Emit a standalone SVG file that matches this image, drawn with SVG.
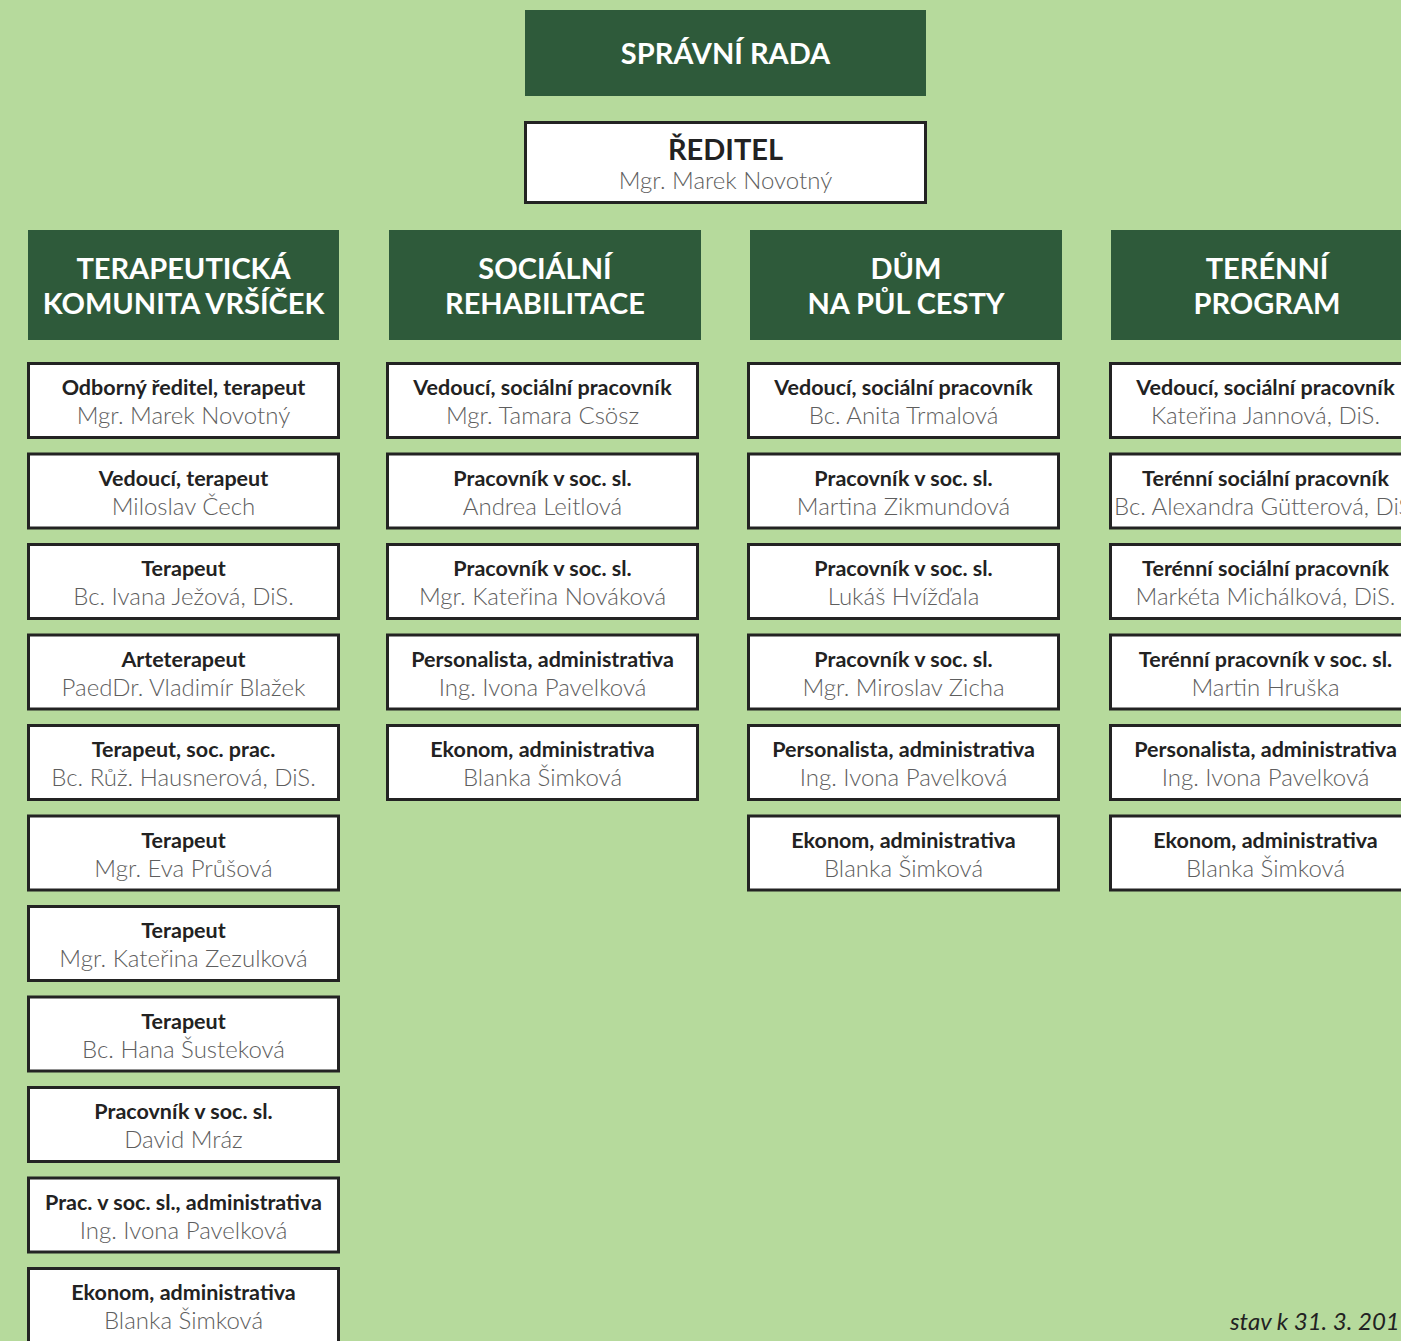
<svg xmlns="http://www.w3.org/2000/svg" width="1401" height="1341" viewBox="0 0 1401 1341">
<style>
.hd{fill:#2e5a3a}
.bx{fill:#ffffff;stroke:#232323;stroke-width:3}
.ht{font-family:Lato,"Liberation Sans",sans-serif;font-weight:700;font-size:29px;fill:#ffffff;text-anchor:middle}
.r{font-family:Lato,"Liberation Sans",sans-serif;font-weight:700;font-size:21.5px;fill:#222222;text-anchor:middle}
.n{font-family:Lato,"Liberation Sans",sans-serif;font-weight:300;font-size:24px;fill:#5e5e5e;text-anchor:middle}
.ft{font-family:Lato,"Liberation Sans",sans-serif;font-style:italic;font-size:24px;fill:#222222}
</style>
<rect width="1401" height="1341" fill="#b6da9c"/>
<g id="connectors"/>
<g id="spravni-rada">
<rect class="hd" x="525" y="10" width="401" height="86"/>
<text class="ht" x="725.5" y="64">SPRÁVNÍ RADA</text>
</g>
<g id="reditel">
<rect class="bx" x="525.5" y="122.5" width="400" height="80"/>
<text class="r" x="725.5" y="160" style="font-size:29px">ŘEDITEL</text>
<text class="n" x="725.5" y="189">Mgr. Marek Novotný</text>
</g>
<g id="h1"><rect class="hd" x="28" y="230" width="311" height="110"/>
<text class="ht" x="183.5" y="279">TERAPEUTICKÁ</text><text class="ht" x="183.5" y="314">KOMUNITA VRŠÍČEK</text></g>
<g id="h2"><rect class="hd" x="389" y="230" width="312" height="110"/>
<text class="ht" x="545" y="279">SOCIÁLNÍ</text><text class="ht" x="545" y="314">REHABILITACE</text></g>
<g id="h3"><rect class="hd" x="750" y="230" width="312" height="110"/>
<text class="ht" x="906" y="279">DŮM</text><text class="ht" x="906" y="314">NA PŮL CESTY</text></g>
<g id="h4"><rect class="hd" x="1111" y="230" width="312" height="110"/>
<text class="ht" x="1267" y="279">TERÉNNÍ</text><text class="ht" x="1267" y="314">PROGRAM</text></g>

<g id="c1r1"><rect class="bx" x="28.5" y="363.5" width="310" height="74"/><text class="r" x="183.5" y="395">Odborný ředitel, terapeut</text><text class="n" x="183.5" y="424">Mgr. Marek Novotný</text></g>
<g id="c1r2"><rect class="bx" x="28.5" y="454" width="310" height="74"/><text class="r" x="183.5" y="485.5">Vedoucí, terapeut</text><text class="n" x="183.5" y="514.5">Miloslav Čech</text></g>
<g id="c1r3"><rect class="bx" x="28.5" y="544.5" width="310" height="74"/><text class="r" x="183.5" y="576">Terapeut</text><text class="n" x="183.5" y="605">Bc. Ivana Ježová, DiS.</text></g>
<g id="c1r4"><rect class="bx" x="28.5" y="635" width="310" height="74"/><text class="r" x="183.5" y="666.5">Arteterapeut</text><text class="n" x="183.5" y="695.5">PaedDr. Vladimír Blažek</text></g>
<g id="c1r5"><rect class="bx" x="28.5" y="725.5" width="310" height="74"/><text class="r" x="183.5" y="757">Terapeut, soc. prac.</text><text class="n" x="183.5" y="786">Bc. Růž. Hausnerová, DiS.</text></g>
<g id="c1r6"><rect class="bx" x="28.5" y="816" width="310" height="74"/><text class="r" x="183.5" y="847.5">Terapeut</text><text class="n" x="183.5" y="876.5">Mgr. Eva Průšová</text></g>
<g id="c1r7"><rect class="bx" x="28.5" y="906.5" width="310" height="74"/><text class="r" x="183.5" y="938">Terapeut</text><text class="n" x="183.5" y="967">Mgr. Kateřina Zezulková</text></g>
<g id="c1r8"><rect class="bx" x="28.5" y="997" width="310" height="74"/><text class="r" x="183.5" y="1028.5">Terapeut</text><text class="n" x="183.5" y="1057.5">Bc. Hana Šusteková</text></g>
<g id="c1r9"><rect class="bx" x="28.5" y="1087.5" width="310" height="74"/><text class="r" x="183.5" y="1119">Pracovník v soc. sl.</text><text class="n" x="183.5" y="1148">David Mráz</text></g>
<g id="c1r10"><rect class="bx" x="28.5" y="1178" width="310" height="74"/><text class="r" x="183.5" y="1209.5">Prac. v soc. sl., administrativa</text><text class="n" x="183.5" y="1238.5">Ing. Ivona Pavelková</text></g>
<g id="c1r11"><rect class="bx" x="28.5" y="1268.5" width="310" height="74"/><text class="r" x="183.5" y="1300">Ekonom, administrativa</text><text class="n" x="183.5" y="1329">Blanka Šimková</text></g>

<g id="c2r1"><rect class="bx" x="387.5" y="363.5" width="310" height="74"/><text class="r" x="542.5" y="395">Vedoucí, sociální pracovník</text><text class="n" x="542.5" y="424">Mgr. Tamara Csösz</text></g>
<g id="c2r2"><rect class="bx" x="387.5" y="454" width="310" height="74"/><text class="r" x="542.5" y="485.5">Pracovník v soc. sl.</text><text class="n" x="542.5" y="514.5">Andrea Leitlová</text></g>
<g id="c2r3"><rect class="bx" x="387.5" y="544.5" width="310" height="74"/><text class="r" x="542.5" y="576">Pracovník v soc. sl.</text><text class="n" x="542.5" y="605">Mgr. Kateřina Nováková</text></g>
<g id="c2r4"><rect class="bx" x="387.5" y="635" width="310" height="74"/><text class="r" x="542.5" y="666.5">Personalista, administrativa</text><text class="n" x="542.5" y="695.5">Ing. Ivona Pavelková</text></g>
<g id="c2r5"><rect class="bx" x="387.5" y="725.5" width="310" height="74"/><text class="r" x="542.5" y="757">Ekonom, administrativa</text><text class="n" x="542.5" y="786">Blanka Šimková</text></g>

<g id="c3r1"><rect class="bx" x="748.5" y="363.5" width="310" height="74"/><text class="r" x="903.5" y="395">Vedoucí, sociální pracovník</text><text class="n" x="903.5" y="424">Bc. Anita Trmalová</text></g>
<g id="c3r2"><rect class="bx" x="748.5" y="454" width="310" height="74"/><text class="r" x="903.5" y="485.5">Pracovník v soc. sl.</text><text class="n" x="903.5" y="514.5">Martina Zikmundová</text></g>
<g id="c3r3"><rect class="bx" x="748.5" y="544.5" width="310" height="74"/><text class="r" x="903.5" y="576">Pracovník v soc. sl.</text><text class="n" x="903.5" y="605">Lukáš Hvížďala</text></g>
<g id="c3r4"><rect class="bx" x="748.5" y="635" width="310" height="74"/><text class="r" x="903.5" y="666.5">Pracovník v soc. sl.</text><text class="n" x="903.5" y="695.5">Mgr. Miroslav Zicha</text></g>
<g id="c3r5"><rect class="bx" x="748.5" y="725.5" width="310" height="74"/><text class="r" x="903.5" y="757">Personalista, administrativa</text><text class="n" x="903.5" y="786">Ing. Ivona Pavelková</text></g>
<g id="c3r6"><rect class="bx" x="748.5" y="816" width="310" height="74"/><text class="r" x="903.5" y="847.5">Ekonom, administrativa</text><text class="n" x="903.5" y="876.5">Blanka Šimková</text></g>

<g id="c4r1"><rect class="bx" x="1110.5" y="363.5" width="310" height="74"/><text class="r" x="1265.5" y="395">Vedoucí, sociální pracovník</text><text class="n" x="1265.5" y="424">Kateřina Jannová, DiS.</text></g>
<g id="c4r2"><rect class="bx" x="1110.5" y="454" width="310" height="74"/><text class="r" x="1265.5" y="485.5">Terénní sociální pracovník</text><text class="n" x="1265.5" y="514.5">Bc. Alexandra Gütterová, DiS.</text></g>
<g id="c4r3"><rect class="bx" x="1110.5" y="544.5" width="310" height="74"/><text class="r" x="1265.5" y="576">Terénní sociální pracovník</text><text class="n" x="1265.5" y="605">Markéta Michálková, DiS.</text></g>
<g id="c4r4"><rect class="bx" x="1110.5" y="635" width="310" height="74"/><text class="r" x="1265.5" y="666.5">Terénní pracovník v soc. sl.</text><text class="n" x="1265.5" y="695.5">Martin Hruška</text></g>
<g id="c4r5"><rect class="bx" x="1110.5" y="725.5" width="310" height="74"/><text class="r" x="1265.5" y="757">Personalista, administrativa</text><text class="n" x="1265.5" y="786">Ing. Ivona Pavelková</text></g>
<g id="c4r6"><rect class="bx" x="1110.5" y="816" width="310" height="74"/><text class="r" x="1265.5" y="847.5">Ekonom, administrativa</text><text class="n" x="1265.5" y="876.5">Blanka Šimková</text></g>

<text class="ft" x="1230" y="1330">stav k 31. 3. 2019</text>
</svg>
